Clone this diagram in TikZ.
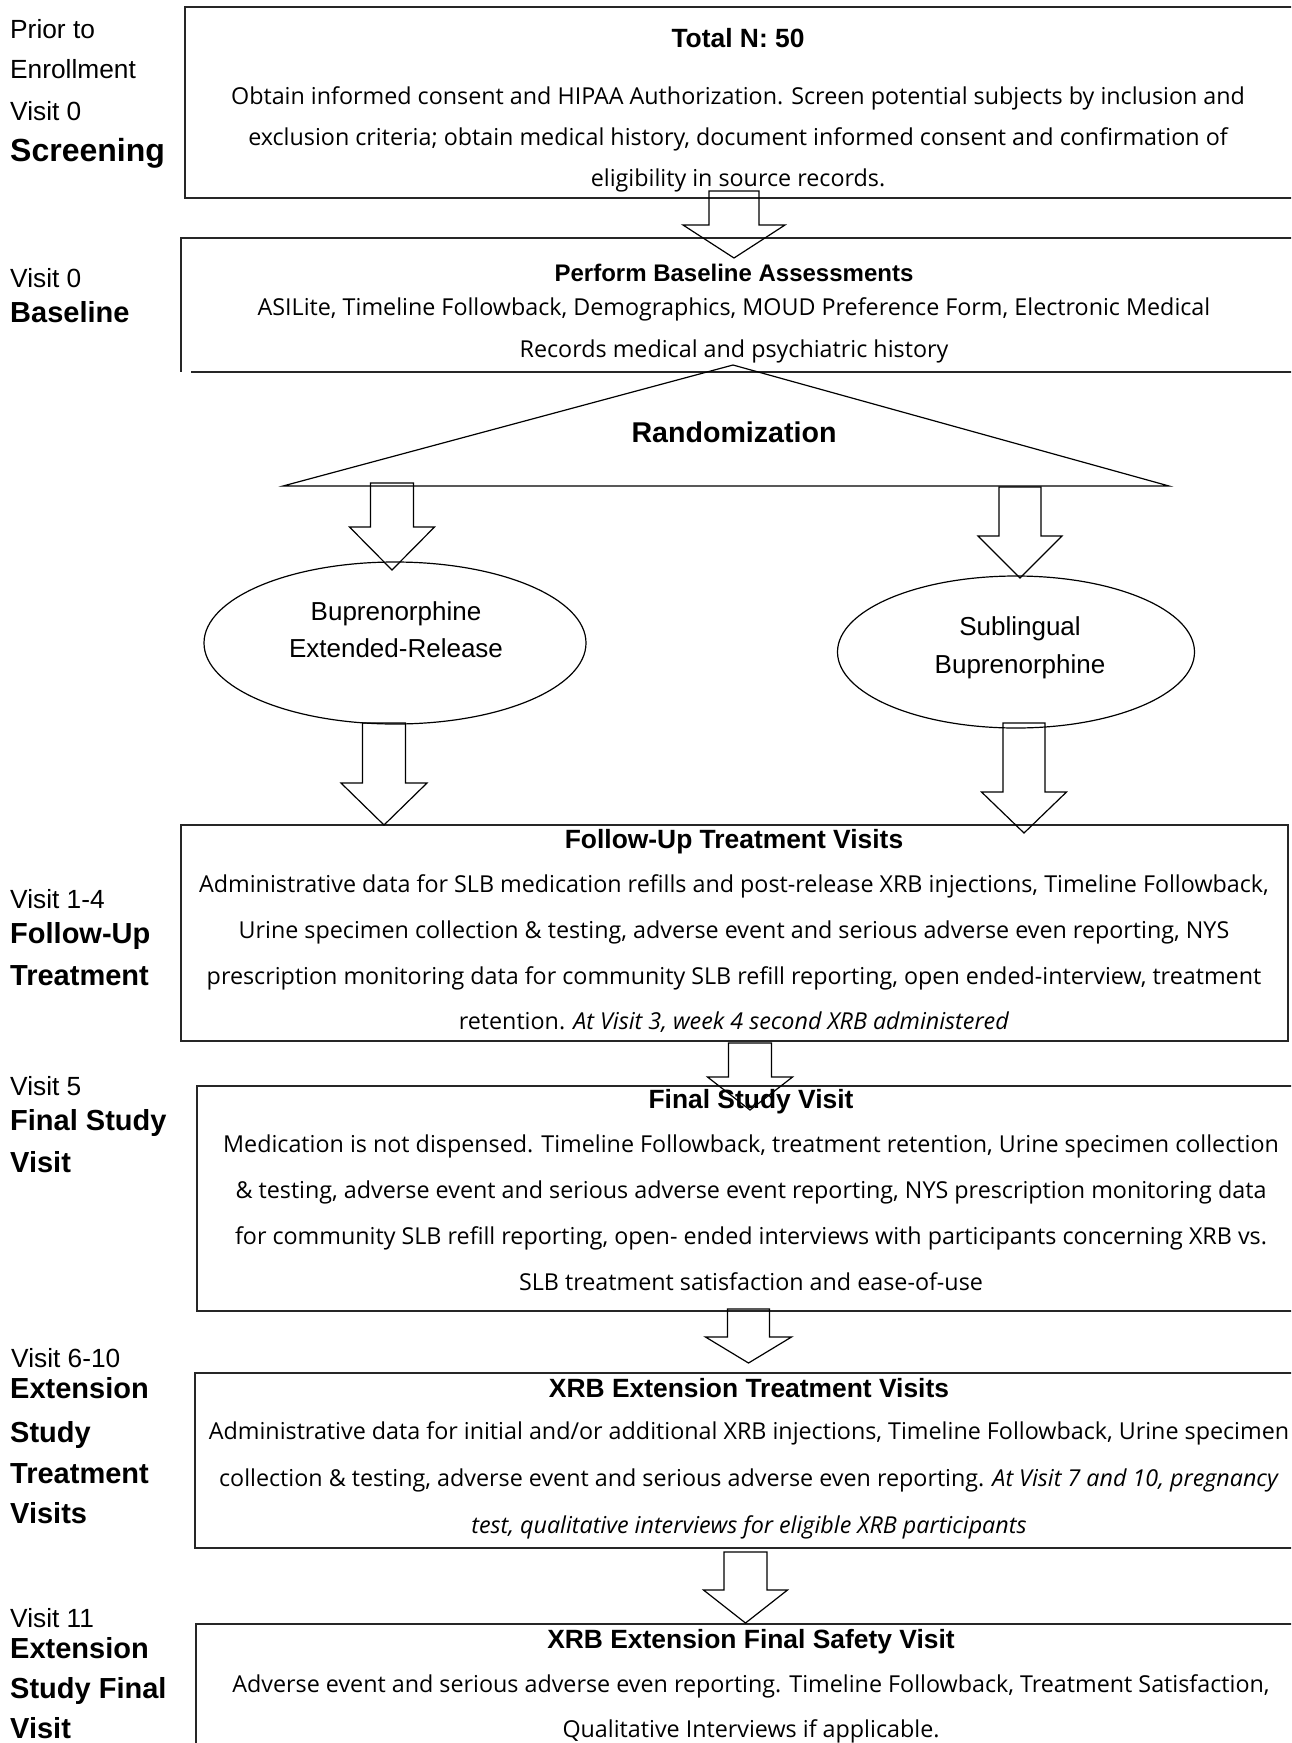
\documentclass[tikz,border=0pt]{standalone}
\usepackage{fontspec}
\setmainfont{Liberation Sans}
\newfontfamily\bodyfont{Open Sans}
\usetikzlibrary{shapes.geometric}
\newcommand\blockarrow[6]{% xc, ytop, yhead, ytip, stem half, head half
  \draw[barrow] (#1-#5,#2) -- (#1+#5,#2) -- (#1+#5,#3) -- (#1+#6,#3) -- (#1,#4) -- (#1-#6,#3) -- (#1-#5,#3) -- cycle;}
\begin{document}
\begin{tikzpicture}[x=1pt,y=-1pt,
  frame/.style={line width=1.3pt, draw=black!85},
  barrow/.style={line width=1.2pt, line join=miter},
  lab/.style={anchor=mid west, inner sep=0pt, yshift=-8pt, font=\fontsize{26.3}{30}\selectfont},
  blab/.style={anchor=mid west, inner sep=0pt, yshift=-8pt, font=\fontsize{29}{33}\selectfont\bfseries},
  ttl/.style={anchor=mid, inner sep=0pt, yshift=-6pt, font=\fontsize{26.4}{30}\selectfont\bfseries},
  body/.style={anchor=mid, inner sep=0pt, yshift=-5pt, font=\bodyfont\fontsize{23.3}{28}\selectfont},
  etxt/.style={anchor=mid, inner sep=0pt, yshift=-6pt, font=\fontsize{26}{30}\selectfont},
  ell/.style={ellipse, draw, line width=1.2pt}]
\clip (0,0) rectangle (1291,1743);
\fill[white] (0,0) rectangle (1291,1743);

% ---------- boxes ----------
\draw[frame] (1300,7) -- (185,7) -- (185,198) -- (1300,198);
\draw[frame] (1300,238) -- (181,238) -- (181,372);
\draw[frame] (191,372) -- (1300,372);
\draw[frame] (181,825) rectangle (1288,1041);
\draw[frame] (1300,1086) -- (197,1086) -- (197,1311) -- (1300,1311);
\draw[frame] (1300,1373) -- (195,1373) -- (195,1548) -- (1300,1548);
\draw[frame] (1300,1624) -- (196,1624) -- (196,1760);

% ---------- left labels ----------
\node[lab] (s1) at (10,28) {Prior to};
\node[lab] (s2) at (10,68) {Enrollment};
\node[lab] (s3) at (10,110) {Visit 0};
\node[blab, font=\fontsize{32}{36}\selectfont\bfseries] (s4) at (10,151) {Screening};
\node[lab] (bl1) at (10,277) {Visit 0};
\node[blab] (bl2) at (10,312) {Baseline};
\node[lab] (f1) at (10,898) {Visit 1-4};
\node[blab] (f2) at (10,933) {Follow-Up};
\node[blab] (f3) at (10,975) {Treatment};
\node[lab] (fs1) at (10,1085) {Visit 5};
\node[blab] (fs2) at (10,1120) {Final Study};
\node[blab] (fs3) at (10,1162) {Visit};
\node[lab] (e1) at (11,1357) {Visit 6-10};
\node[blab] (e2) at (10,1388) {Extension};
\node[blab] (e3) at (10,1432) {Study};
\node[blab] (e4) at (10,1473) {Treatment};
\node[blab] (e5) at (10,1513) {Visits};
\node[lab] (x1) at (10,1617) {Visit 11};
\node[blab] (x2) at (10,1648) {Extension};
\node[blab] (x3) at (10,1688) {Study Final};
\node[blab] (x4) at (10,1728) {Visit};

% ---------- box 1 ----------
\node[ttl] (t1) at (738,39) {Total N: 50};
\foreach \t [count=\i] in {
 {Obtain informed consent and HIPAA Authorization. Screen potential subjects by inclusion and},
 {exclusion criteria; obtain medical history, document informed consent and confirmation of},
 {eligibility in source records.}}
 \node[body] (b1-\i) at (738,97+41*\i-41) {\t};

% ---------- box 2 ----------
\node[ttl, font=\fontsize{24}{28}\selectfont\bfseries] (t2) at (734,273) {Perform Baseline Assessments};
\foreach \t [count=\i] in {
 {ASILite, Timeline Followback, Demographics, MOUD Preference Form, Electronic Medical},
 {Records medical and psychiatric history}}
 \node[body] (b2-\i) at (734,308+42*\i-42) {\t};

% ---------- randomization ----------
\draw[line width=1.2pt] (733,365) -- (1169,486) -- (283,486) -- cycle;
\node[ttl, font=\fontsize{28.6}{32}\selectfont\bfseries] (rnd) at (734,434) {Randomization};

\node[ell, minimum width=382pt, minimum height=162pt, inner sep=0pt] (xrb) at (395,643) {};
\node[etxt] (xrb1) at (396,612) {Buprenorphine};
\node[etxt] (xrb2) at (396,649) {Extended-Release};
\node[ell, minimum width=357pt, minimum height=152pt, inner sep=0pt] (slb) at (1016,652) {};
\node[etxt] (slb1) at (1020,627) {Sublingual};
\node[etxt] (slb2) at (1020,665) {Buprenorphine};

% ---------- follow-up ----------
\node[ttl] (t3) at (734,840) {Follow-Up Treatment Visits};
\foreach \t [count=\i] in {
 {Administrative data for SLB medication refills and post-release XRB injections, Timeline Followback,},
 {Urine specimen collection \& testing, adverse event and serious adverse even reporting, NYS},
 {prescription monitoring data for community SLB refill reporting, open ended-interview, treatment},
 {retention. \textit{At Visit 3, week 4 second XRB administered}}}
 \node[body] (b3-\i) at (734,885+45.7*\i-45.7) {\t};

% ---------- final ----------
\node[ttl] (t4) at (751,1100) {Final Study Visit};
\foreach \t [count=\i] in {
 {Medication is not dispensed. Timeline Followback, treatment retention, Urine specimen collection},
 {\& testing, adverse event and serious adverse event reporting, NYS prescription monitoring data},
 {for community SLB refill reporting, open- ended interviews with participants concerning XRB vs.},
 {SLB treatment satisfaction and ease-of-use}}
 \node[body] (b4-\i) at (751,1145+46*\i-46) {\t};

% ---------- extension ----------
\node[ttl] (t5) at (749,1389) {XRB Extension Treatment Visits};
\foreach \t [count=\i] in {
 {Administrative data for initial and/or additional XRB injections, Timeline Followback, Urine specimen},
 {collection \& testing, adverse event and serious adverse even reporting. \textit{At Visit 7 and 10, pregnancy}},
 {\textit{test, qualitative interviews for eligible XRB participants}}}
 \node[body] (b5-\i) at (749,1432+47*\i-47) {\t};

% ---------- safety ----------
\node[ttl] (t6) at (751,1640) {XRB Extension Final Safety Visit};
\foreach \t [count=\i] in {
 {Adverse event and serious adverse even reporting. Timeline Followback, Treatment Satisfaction,},
 {Qualitative Interviews if applicable.}}
 \node[body] (b6-\i) at (751,1685+45*\i-45) {\t};

% ---------- block arrows ----------
\blockarrow{734}{191}{225}{258}{25}{51}
\blockarrow{392}{483}{527}{570}{21.5}{42.5}
\blockarrow{1020}{487}{536}{578}{21}{42}
\blockarrow{384}{723}{783}{825}{21.5}{43}
\blockarrow{1024}{723}{792}{833}{21}{42.5}
\blockarrow{750}{1043}{1077}{1110}{21.5}{42.5}
\blockarrow{748.5}{1309}{1337}{1363}{21}{43}
\blockarrow{745.5}{1552}{1590}{1623}{21.5}{42}
\end{tikzpicture}
\end{document}
